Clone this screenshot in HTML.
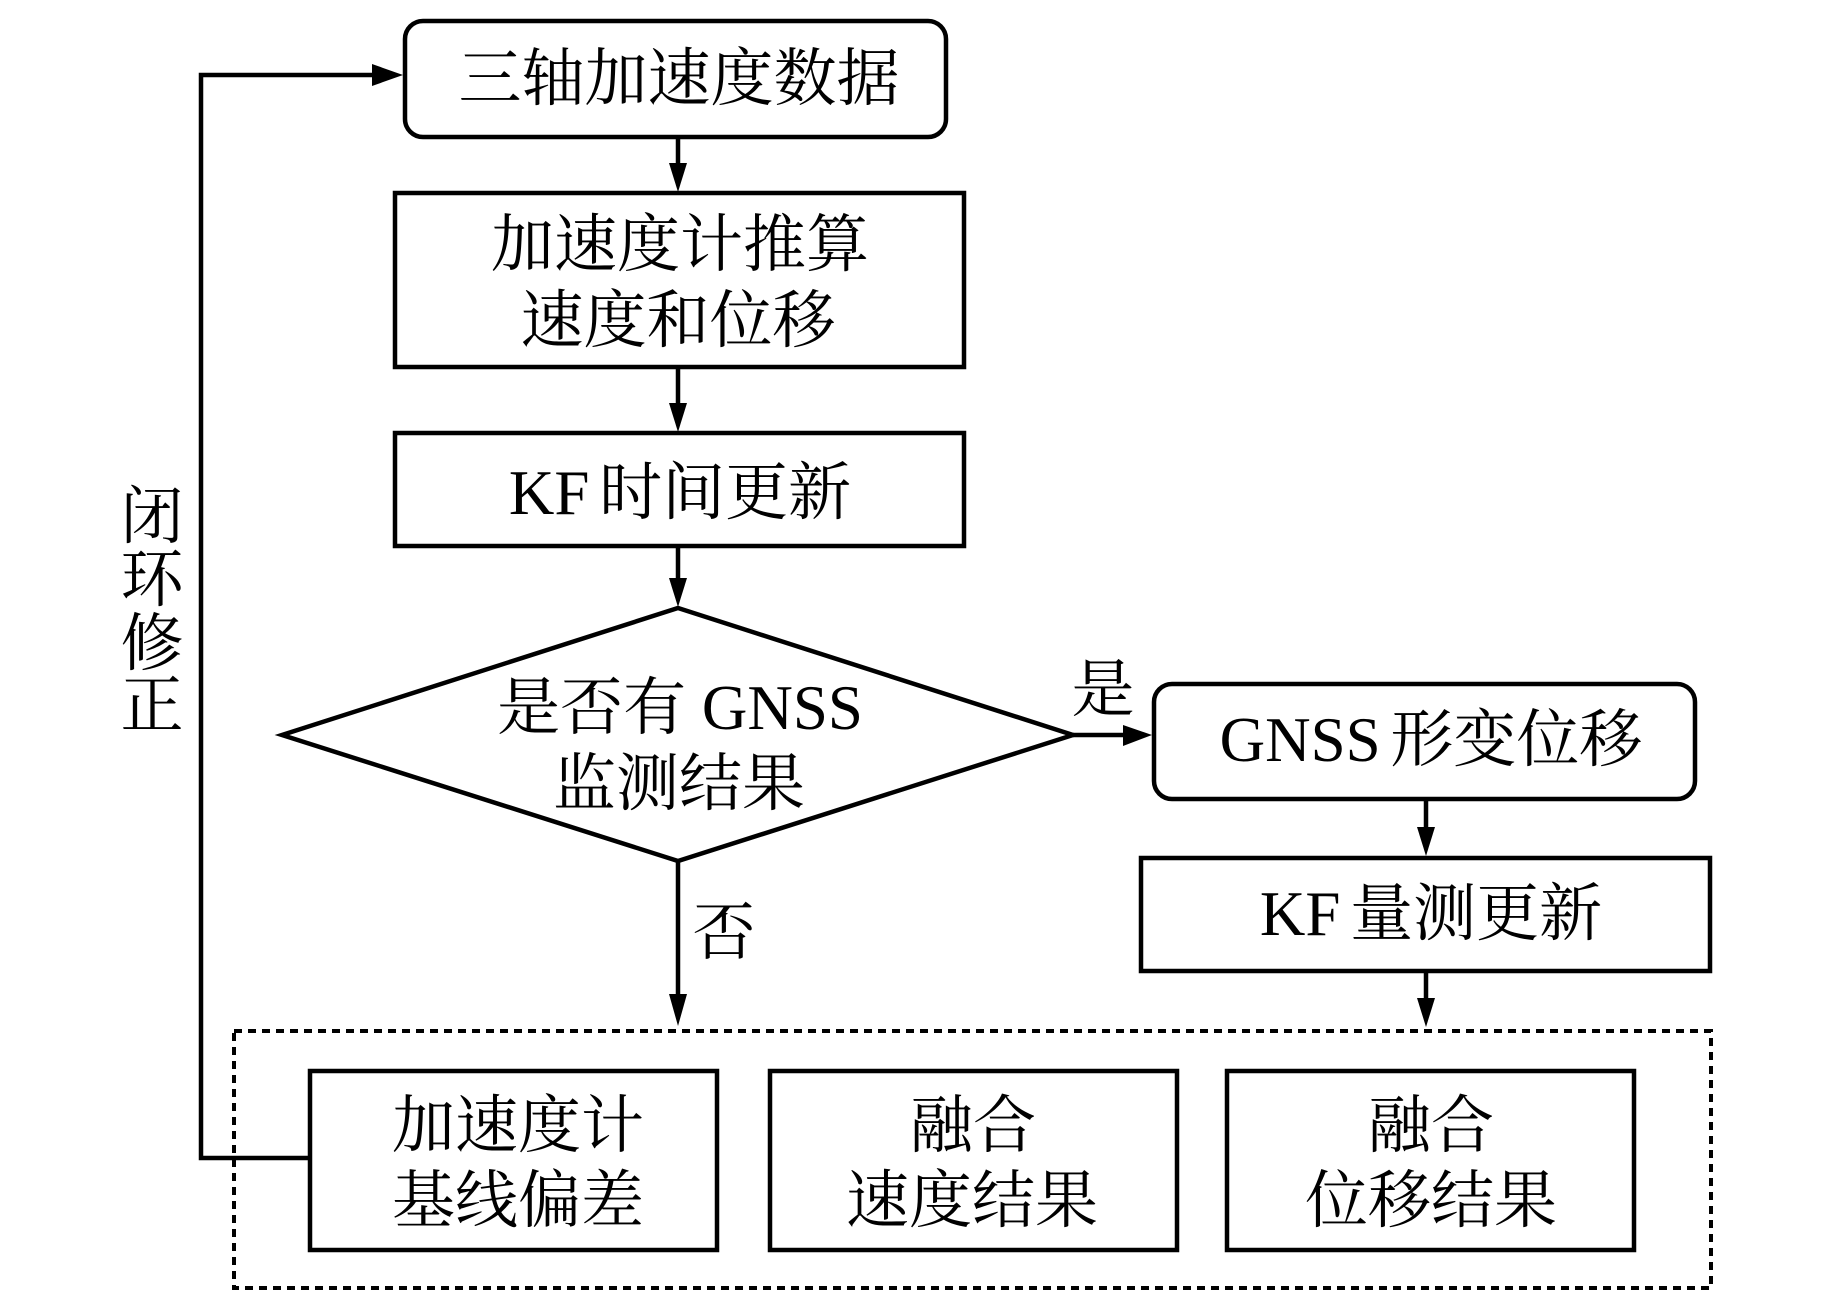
<!DOCTYPE html>
<html><head><meta charset="utf-8">
<style>
html,body{margin:0;padding:0;background:#fff;width:1843px;height:1299px;overflow:hidden}
svg{display:block}
text{font-family:"Liberation Serif","Noto Serif CJK SC",serif;font-size:63px;fill:#000;text-anchor:middle}
.t{word-spacing:-6px}
</style></head><body>
<svg width="1843" height="1299" viewBox="0 0 1843 1299" xmlns="http://www.w3.org/2000/svg">
<g fill="none" stroke="#000" stroke-width="4.5">
<rect x="405" y="21" width="541" height="116" rx="18"/>
<rect x="395" y="193" width="569" height="174"/>
<rect x="395" y="433" width="569" height="113"/>
<polygon points="678,608 1073,735 678,861 282,735"/>
<rect x="1154" y="684" width="541" height="115" rx="18"/>
<rect x="1141" y="858" width="569" height="113"/>
<rect x="310" y="1071" width="407" height="179"/>
<rect x="770" y="1071" width="407" height="179"/>
<rect x="1227" y="1071" width="407" height="179"/>
<rect x="234" y="1031" width="1477" height="257" stroke-dasharray="8 6" stroke-width="4"/>
<path d="M678 137V170M678 367V410M678 546V585M678 861V1000M1073 735H1130M1426 799V835M1426 971V1005"/>
<path d="M310 1158H201V75H375"/>
</g>
<g fill="#000">
<polygon points="669,163 687,163 678,192"/>
<polygon points="669,403 687,403 678,432"/>
<polygon points="669,578 687,578 678,607"/>
<polygon points="669,994 687,994 678,1026"/>
<polygon points="1123,725 1123,746 1152,735"/>
<polygon points="1417,827 1435,827 1426,856"/>
<polygon points="1417,998 1435,998 1426,1027"/>
<polygon points="372,64 372,86 403,75"/>
</g>
<text x="679" y="100">三轴加速度数据</text>
<text x="680" y="266">加速度计推算</text>
<text x="678" y="342">速度和位移</text>
<text class="t" x="680" y="514">KF 时间更新</text>
<text x="680" y="729">是否有 GNSS</text>
<text x="679" y="805">监测结果</text>
<text x="152" y="538">闭</text>
<text x="152" y="601">环</text>
<text x="152" y="665">修</text>
<text x="152" y="727">正</text>
<text x="724" y="954">否</text>
<text x="1103" y="711">是</text>
<text class="t" x="1431" y="761">GNSS 形变位移</text>
<text class="t" x="1431" y="935">KF 量测更新</text>
<text x="518" y="1147">加速度计</text>
<text x="518" y="1222">基线偏差</text>
<text x="973" y="1147">融合</text>
<text x="972" y="1222">速度结果</text>
<text x="1431" y="1147">融合</text>
<text x="1431" y="1222">位移结果</text>
</svg>
</body></html>
